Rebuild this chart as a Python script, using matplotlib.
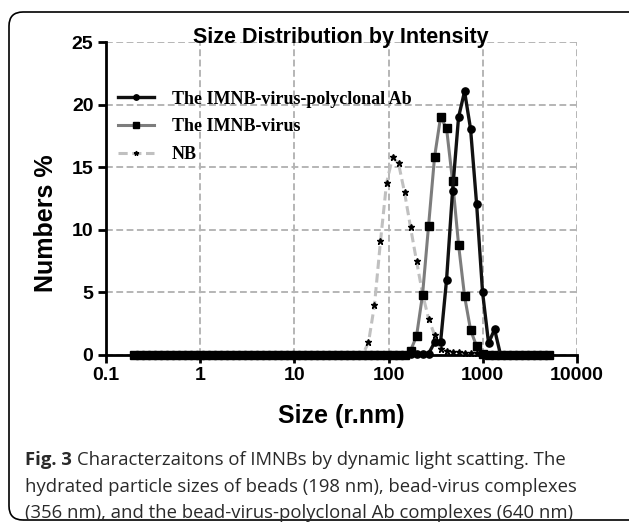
import matplotlib
matplotlib.use("Agg")
import matplotlib.pyplot as plt
import matplotlib.patches as mpatches
from matplotlib.transforms import IdentityTransform

# hydrodynamic radius bins (r.nm)
sizes = [0.2000, 0.2316, 0.2683, 0.3107, 0.3598, 0.4166, 0.4825, 0.5587, 0.6470, 0.7493,
         0.8677, 1.005, 1.164, 1.348, 1.561, 1.808, 2.094, 2.424, 2.807, 3.251,
         3.765, 4.360, 5.049, 5.847, 6.771, 7.842, 9.081, 10.52, 12.18, 14.10,
         16.33, 18.92, 21.91, 25.37, 29.38, 34.02, 39.40, 45.63, 52.84, 61.19,
         70.87, 82.07, 95.04, 110.1, 127.5, 147.6, 171.0, 198.0, 229.3, 265.6,
         307.5, 356.2, 412.5, 477.7, 553.2, 640.6, 741.9, 859.2, 995.0, 1152,
         1334, 1545, 1790, 2073, 2400, 2780, 3219, 3728, 4317, 5000]

ab_virus = [0, 0, 0, 0, 0, 0, 0, 0, 0, 0,
            0, 0, 0, 0, 0, 0, 0, 0, 0, 0,
            0, 0, 0, 0, 0, 0, 0, 0, 0, 0,
            0, 0, 0, 0, 0, 0, 0, 0, 0, 0,
            0, 0, 0, 0, 0, 0, 0.1, 0.1, 0.1, 0.1,
            1.0, 1.0, 6.0, 13.1, 19.0, 21.05, 18.05, 12.1, 5.0, 0.95,
            2.05, 0, 0, 0, 0, 0, 0, 0, 0, 0]

virus = [0, 0, 0, 0, 0, 0, 0, 0, 0, 0,
         0, 0, 0, 0, 0, 0, 0, 0, 0, 0,
         0, 0, 0, 0, 0, 0, 0, 0, 0, 0,
         0, 0, 0, 0, 0, 0, 0, 0, 0, 0,
         0, 0, 0, 0, 0, 0, 0.35, 1.5, 4.8, 10.3,
         15.8, 19.0, 18.1, 13.9, 8.8, 4.7, 2.0, 0.7, 0.1, 0,
         0, 0, 0, 0, 0, 0, 0, 0, 0, 0]

nb = [0, 0, 0, 0, 0, 0, 0, 0, 0, 0,
      0, 0, 0, 0, 0, 0, 0, 0, 0, 0,
      0, 0, 0, 0, 0, 0, 0, 0, 0, 0,
      0, 0, 0, 0, 0, 0, 0, 0, 0, 1.0,
      4.0, 9.1, 13.7, 15.8, 15.3, 13.0, 10.2, 7.5, 4.9, 2.9,
      1.6, 0.5, 0.3, 0.2, 0.2, 0.15, 0.15, 0.15, 0.1, 0,
      0, 0, 0, 0, 0, 0, 0, 0, 0, 0]

labels = ["The IMNB-virus-polyclonal Ab", "The IMNB-virus", "NB"]
xticks = [0.1, 1, 10, 100, 1000, 10000]
xticklabels = ["0.1", "1", "10", "100", "1000", "10000"]
yticks = [0, 5, 10, 15, 20, 25]

plt.rcParams["font.family"] = ["Liberation Sans", "DejaVu Sans"]

fig = plt.figure(figsize=(6.29, 5.27), dpi=100)
ax = fig.add_axes([0.1685, 0.3264, 0.7488, 0.5939])

l3, = ax.plot(sizes, nb, color="#c0c0c0", lw=2.2, ls=(0, (3, 1.5)),
              marker="*", ms=4.5, mfc="black", mec="black", zorder=3, clip_on=False)
l2, = ax.plot(sizes, virus, color="#7d7d7d", lw=2.2,
              marker="s", ms=5.4, mfc="black", mec="black", zorder=4, clip_on=False)
l1, = ax.plot(sizes, ab_virus, color="#111111", lw=2.4,
              marker="o", ms=5.2, mfc="black", mec="black", zorder=5, clip_on=False)

ax.set_xscale("log")
ax.set_xlim(0.1, 10000)
ax.set_ylim(0, 25)
ax.set_xticks(xticks)
ax.set_xticklabels(xticklabels)
ax.set_yticks(yticks)
ax.minorticks_off()

for s in ["top", "right"]:
    ax.spines[s].set_visible(False)
for s in ["left", "bottom"]:
    ax.spines[s].set_linewidth(2)
ax.tick_params(width=2, length=6, direction="out", labelsize=14, pad=3)
for t in ax.get_xticklabels() + ax.get_yticklabels():
    t.set_fontweight("bold")

ax.grid(True, color="#b5b5b5", lw=1.4, ls=(0, (3.5, 1.8)), zorder=0)
ax.set_axisbelow(True)

ax.set_xlabel("Size (r.nm)", fontsize=18, fontweight="bold", labelpad=14)
ax.set_ylabel("Numbers %", fontsize=18, fontweight="bold")
ax.yaxis.set_label_coords(-0.102, 0.42)

fig.text(341 / 629, 1 - 38 / 527, "Size Distribution by Intensity",
         ha="center", va="center", fontsize=15.5, fontweight="bold")

ax.legend([l1, l2, l3], labels, loc="upper left", bbox_to_anchor=(0.025, 0.845),
          frameon=False, prop={"family": "Liberation Serif", "weight": "bold", "size": 13},
          handlelength=2.0, handletextpad=1.0, labelspacing=0.6, borderpad=0,
          borderaxespad=0, markerscale=0.75)

# rounded figure border
border = mpatches.FancyBboxPatch((9, 7), 640, 508,
                                 boxstyle="round,pad=0,rounding_size=14",
                                 transform=IdentityTransform(), fill=False,
                                 ec="black", lw=1.2)
fig.add_artist(border)

# caption
cap_font = "Open Sans"
cap_size = 13.3
cap_color = "#2a2a2a"
y_lines = [1 - 460 / 527, 1 - 487 / 527, 1 - 513 / 527]
bold = fig.text(25 / 629, y_lines[0], "Fig. 3", fontsize=cap_size, fontweight="bold",
                family=cap_font, va="center", color=cap_color)
fig.canvas.draw()
bb = bold.get_window_extent()
fig.text((bb.x1 + 5) / 629, y_lines[0],
         "Characterzaitons of IMNBs by dynamic light scatting. The",
         fontsize=cap_size, family=cap_font, va="center", color=cap_color)
fig.text(25 / 629, y_lines[1],
         "hydrated particle sizes of beads (198 nm), bead-virus complexes",
         fontsize=cap_size, family=cap_font, va="center", color=cap_color)
fig.text(25 / 629, y_lines[2],
         "(356 nm), and the bead-virus-polyclonal Ab complexes (640 nm)",
         fontsize=cap_size, family=cap_font, va="center", color=cap_color)

fig.savefig("out.png", dpi=100)
